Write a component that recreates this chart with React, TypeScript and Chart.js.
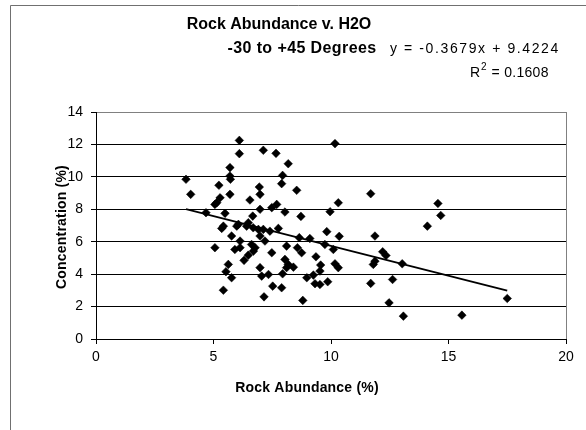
import { useEffect, useRef } from "react";
import { Chart, registerables } from "chart.js";

Chart.register(...registerables);

const rockAbundance = [
  3.83, 4.03, 4.68, 5.06, 5.06, 5.14, 5.23, 5.28, 5.35, 5.42, 5.49, 5.53, 5.63, 5.7, 5.7, 5.72, 5.7, 5.77, 5.77, 5.91,
  5.99, 6.1, 6.1, 6.13, 6.13, 6.3, 6.41, 6.48, 6.55, 6.62, 6.67, 6.69, 6.7, 6.77, 6.91, 6.95, 6.98, 6.98, 6.98, 6.98,
  7.05, 7.12, 7.12, 7.15, 7.19, 7.34, 7.4, 7.48, 7.48, 7.52, 7.66, 7.69, 7.76, 7.9, 7.9, 7.94, 7.94, 8.04, 8.04, 8.11,
  8.11, 8.18, 8.18, 8.4, 8.54, 8.57, 8.65, 8.72, 8.75, 8.8, 8.97, 9.1, 9.25, 9.32, 9.36, 9.53, 9.53, 9.56, 9.74, 9.82,
  9.86, 9.96, 10.1, 10.17, 10.17, 10.31, 10.31, 10.35, 11.69, 11.69, 11.8, 11.87, 11.87, 12.2, 12.34, 12.47, 12.62, 13.03, 13.08, 14.1,
  14.55, 14.67, 15.57, 17.5, 5.42, 6.06, 6.48,
];
const concentration = [
  9.85, 8.92, 7.79, 5.63, 8.3, 8.41, 9.48, 8.71, 6.82, 3.01, 7.75, 4.15, 4.6, 10.57, 10.05, 9.85, 8.92, 6.35, 3.78, 5.52,
  6.96, 12.25, 11.43, 6.04, 5.63, 4.85, 6.96, 5.17, 8.57, 5.83, 7.58, 6.86, 5.42, 5.63, 6.76, 9.37, 8.92, 8.0, 6.35, 4.4,
  3.88, 11.64, 6.76, 2.6, 6.04, 3.98, 6.65, 8.1, 5.32, 3.26, 11.45, 8.3, 6.82, 9.58, 3.16, 10.09, 4.02, 7.83, 4.91, 5.73,
  4.4, 10.81, 4.6, 4.43, 9.17, 5.63, 6.25, 7.56, 5.32, 2.38, 3.78, 6.2, 3.94, 3.41, 5.07, 3.36, 4.19, 4.56, 5.83, 6.62,
  3.53, 7.85, 5.52, 12.05, 4.64, 8.4, 4.4, 6.33, 8.96, 3.43, 4.6, 4.8, 6.35, 5.38, 5.15, 2.23, 3.67, 4.64, 1.41, 6.96,
  8.36, 7.62, 1.47, 2.5, 6.96, 7.07, 7.17,
];

const xTickValues = [0, 5, 10, 15, 20];
const yTickValues = [0, 2, 4, 6, 8, 10, 12, 14];

const trendSlope = -0.3679;
const trendIntercept = 9.4224;
const rSquared = 0.1608;

const titleLine1 = "Rock Abundance v. H2O";
const titleLine2 = "-30 to +45 Degrees";
const equationText = "y = -0.3679x + 9.4224";
const xAxisTitle = "Rock Abundance (%)";
const yAxisTitle = "Concentration (%)";

const FONT = '"Liberation Sans", Arial, sans-serif';

export default function App() {
  const canvasRef = useRef<HTMLCanvasElement | null>(null);

  useEffect(() => {
    const canvas = canvasRef.current;
    if (!canvas) return;

    const points = rockAbundance.map((x, i) => ({ x, y: concentration[i] }));
    const xMin = Math.min(...rockAbundance);
    const xMax = Math.max(...rockAbundance);
    const trend = [
      { x: xMin, y: trendSlope * xMin + trendIntercept },
      { x: xMax, y: trendSlope * xMax + trendIntercept },
    ];

    const setSpacing = (ctx: any, v: string) => {
      if ("letterSpacing" in ctx) ctx.letterSpacing = v;
    };

    const framePlugin = {
      id: "framePlugin",
      beforeDraw(chart: any) {
        const ctx = chart.ctx as CanvasRenderingContext2D;
        ctx.save();
        ctx.fillStyle = "#fff";
        ctx.fillRect(0, 0, chart.width, chart.height);
        ctx.strokeStyle = "#707070";
        ctx.lineWidth = 1;
        ctx.beginPath();
        ctx.moveTo(10.5, chart.height + 5);
        ctx.lineTo(10.5, 5.5);
        ctx.lineTo(chart.width + 5, 5.5);
        ctx.stroke();
        ctx.restore();
      },
    };

    const textPlugin = {
      id: "textPlugin",
      afterDraw(chart: any) {
        const ctx = chart.ctx as any;
        ctx.save();
        ctx.fillStyle = "#000";
        ctx.textBaseline = "middle";

        ctx.font = `bold 16px ${FONT}`;
        ctx.textAlign = "center";
        setSpacing(ctx, "0px");
        ctx.fillText(titleLine1, 279, 25);
        setSpacing(ctx, "0.4px");
        ctx.fillText(titleLine2, 302, 49);

        ctx.font = `14px ${FONT}`;
        ctx.textAlign = "left";
        setSpacing(ctx, "1.6px");
        ctx.fillText(equationText, 390, 49);

        // R² = ...
        setSpacing(ctx, "0.3px");
        const rStart = 470;
        ctx.fillText("R", rStart, 73);
        const rw = ctx.measureText("R").width;
        ctx.font = `10px ${FONT}`;
        ctx.fillText("2", rStart + rw + 0.5, 67);
        const sw = ctx.measureText("2").width;
        ctx.font = `14px ${FONT}`;
        ctx.fillText(" = " + rSquared.toFixed(4), rStart + rw + sw + 1, 73);

        setSpacing(ctx, "0.2px");
        ctx.font = `bold 14px ${FONT}`;
        ctx.textAlign = "center";
        ctx.fillText(xAxisTitle, 307, 388);

        ctx.translate(62, 227);
        ctx.rotate(-Math.PI / 2);
        ctx.fillText(yAxisTitle, 0, 0);
        ctx.restore();
      },
    };

    const chart = new Chart(canvas, {
      type: "scatter",
      data: {
        datasets: [
          {
            type: "scatter",
            data: points,
            backgroundColor: "#000",
            borderColor: "#000",
            borderWidth: 0.5,
            pointStyle: "rectRot",
            pointRadius: 4.3,
            pointHoverRadius: 4.3,
            order: 1,
          },
          {
            type: "line",
            data: trend,
            borderColor: "#000",
            borderWidth: 1.8,
            pointRadius: 0,
            fill: false,
            order: 2,
          } as any,
        ],
      },
      options: {
        responsive: false,
        animation: false,
        events: [],
        layout: { padding: { left: 0, right: 20, top: 112, bottom: 20 } },
        plugins: {
          legend: { display: false },
          tooltip: { enabled: false },
          title: { display: false },
        },
        scales: {
          x: {
            type: "linear",
            min: 0,
            max: 20,
            afterFit: (scale: any) => {
              scale.height = 71;
            },
            afterBuildTicks: (scale: any) => {
              scale.ticks = xTickValues.map((v) => ({ value: v }));
            },
            ticks: {
              color: "#000",
              font: { family: FONT, size: 14 },
              padding: 5,
              maxRotation: 0,
            },
            grid: {
              color: (c: any) => (c.tick && c.tick.value === 20 ? "#808080" : "rgba(0,0,0,0)"),
              tickColor: "#000",
              tickLength: 5,
              lineWidth: 1,
            },
            border: { color: "#000", width: 1 },
          },
          y: {
            type: "linear",
            min: 0,
            max: 14,
            afterFit: (scale: any) => {
              scale.width = 96;
            },
            afterBuildTicks: (scale: any) => {
              scale.ticks = yTickValues.map((v) => ({ value: v }));
            },
            ticks: {
              color: "#000",
              font: { family: FONT, size: 14 },
              padding: 8,
            },
            grid: {
              color: (c: any) => (c.tick && c.tick.value === 14 ? "#808080" : "#000"),
              tickColor: "#000",
              tickLength: 5,
              lineWidth: 1,
            },
            border: { color: "#000", width: 1 },
          },
        },
      },
      plugins: [framePlugin, textPlugin],
    });

    return () => {
      chart.destroy();
    };
  }, []);

  return (
    <div
      style={{
        position: "fixed",
        left: 0,
        top: 0,
        width: 586,
        height: 430,
        overflow: "hidden",
        background: "#fff",
      }}
    >
      <canvas
        ref={canvasRef}
        width={586}
        height={430}
        style={{ position: "absolute", left: 0, top: 0, width: 586, height: 430 }}
      />
    </div>
  );
}
